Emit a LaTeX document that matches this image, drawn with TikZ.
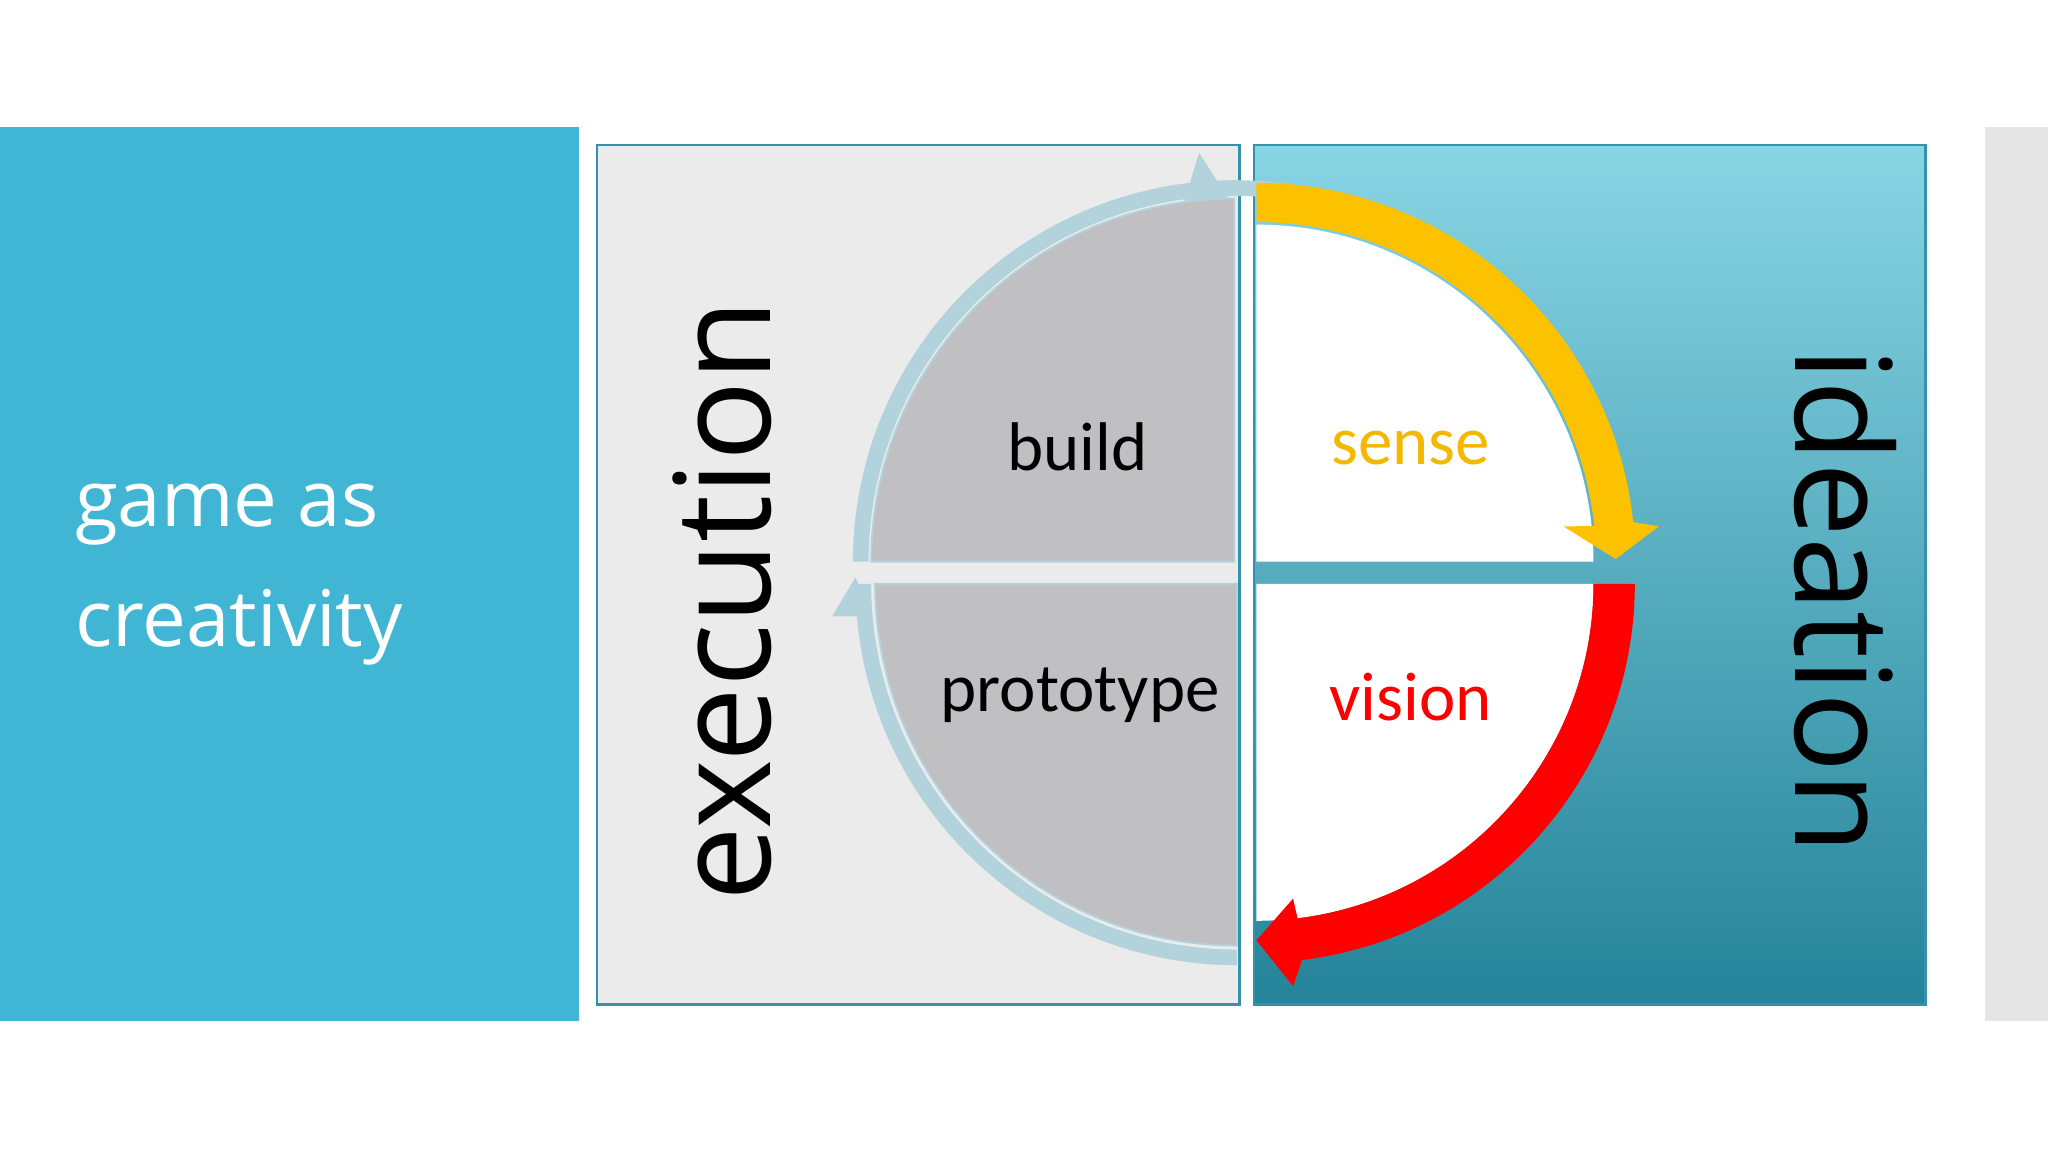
\documentclass[tikz,border=0pt]{standalone}
\usepackage{fontspec}
\setmainfont{Carlito}
\newfontfamily\tw{Open Sans}
\begin{document}
\begin{tikzpicture}[x=0.01cm,y=0.01cm]
\definecolor{teal1}{HTML}{41B6D4}
\definecolor{gtop}{HTML}{88D5E4}
\definecolor{gbot}{HTML}{25849A}
\definecolor{qgrey}{HTML}{C0C0C2}
\definecolor{lblue}{HTML}{B3D3DC}
\definecolor{yel}{HTML}{FCC200}
\definecolor{redc}{HTML}{FF0000}
\definecolor{sensec}{HTML}{F5B800}
\tikzset{lbl/.style={font=\fontsize{15}{18}\selectfont}}
\useasboundingbox (0,0) rectangle (1568,882);
\fill[white] (0,0) rectangle (1568,882);
\fill[teal1] (0,100) rectangle (443,785);
\fill[black!10] (1520,100) rectangle (1568,785);
% execution box
\draw[fill=black!8,draw=teal1!80!black,line width=0.6pt] (457,113) rectangle (949,771);
% ideation box
\shade[top color=gtop,bottom color=gbot] (960,113) rectangle (1474,771);
\draw[teal1!80!black,line width=0.6pt] (960,113) rectangle (1474,771);
% light blue arcs
\fill[lblue] (945,452) ++(80:292) arc (80:180:292) -- ++(12,0) arc (180:80:280) -- cycle;
\fill[lblue] (918,765) -- (942,728) -- (905,722) -- cycle;
\fill[lblue] (947,435) ++(180:292) arc (180:270:292) -- ++(0,12) arc (270:180:280) -- cycle;
\fill[lblue] (637,410) -- (655,440) -- (668,410) -- cycle;
% grey quarters
\fill[qgrey,draw=lblue] (945,452) -- ++(180:278) arc (180:90:278) -- cycle;
\fill[qgrey,draw=lblue] (947,435) -- ++(180:277) arc (180:270:277) -- cycle;
% white quarters
\fill[white] (962,452) -- ++(0:258) arc (0:90:258) -- cycle;
\fill[white] (962,435) -- ++(0:258) arc (0:-90:258) -- cycle;
% yellow arrow
\fill[yel] (962,742) arc (90:6:290) -- (1270,479) -- (1237,454) -- (1197,479) -- (1220.6,479.2) arc (6:90:260) -- cycle;
% red arrow
\fill[redc] (1220,435) arc (0:-83:258) -- (990,194) -- (962,162) -- (990,127) -- (997,147) arc (-83:0:290) -- cycle;
% texts
\node[text=white,font=\tw\fontsize{17}{26}\selectfont,anchor=west,align=left] (g) at (45,442) {game as\\creativity};
\node[font=\tw\fontsize{29}{30}\selectfont,rotate=90] (ex) at (553,422) {execution};
\node[font=\tw\fontsize{29}{30}\selectfont,rotate=-90] (id) at (1413,422) {ideation};
\node[lbl] (b) at (825,540) {build};
\node[lbl] (p) at (827,350) {prototype};
\node[lbl,text=sensec] (s) at (1080,539) {sense};
\node[lbl,text=redc] (v) at (1080,348) {vision};
\end{tikzpicture}
\end{document}
